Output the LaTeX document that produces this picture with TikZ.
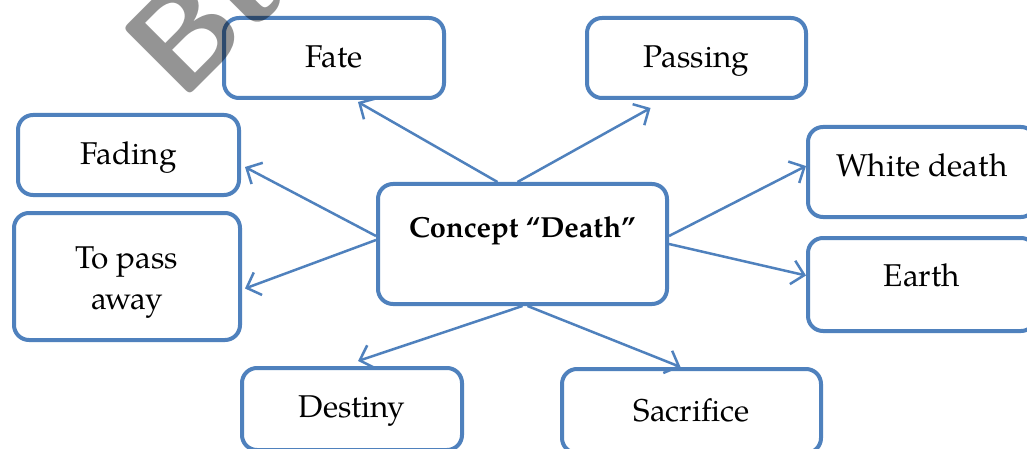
\documentclass[tikz,border=0pt]{standalone}
\usepackage{fontspec}
\setmainfont{TeX Gyre Pagella}
\usetikzlibrary{arrows.meta,calc}
\definecolor{boxblue}{HTML}{4F81BD}
\tikzset{
  box/.style={draw=boxblue, line width=4pt, rounded corners=15pt, fill=white,
    align=center, inner sep=0pt, text height=26pt, text depth=6pt,
    font=\fontsize{31.5}{41}\selectfont},
  link/.style={draw=boxblue, line width=2.5pt, -{Straight Barb[length=12pt,width=24pt,line width=2.5pt]}},
}
\begin{document}
\begin{tikzpicture}[x=1pt,y=-1pt]
\clip (0,0) rectangle (1027,449);
\useasboundingbox (0,0) rectangle (1027,449);
\fill[white] (0,0) rectangle (1027,449);

\node[box, minimum width=220pt, minimum height=80pt] (fate) at (334,58) {Fate};
\node[box, minimum width=219pt, minimum height=80pt] (pass) at (696.5,58) {Passing};
\node[box, minimum width=221pt, minimum height=80pt] (fading) at (128.5,155) {Fading};
\node[box, minimum width=226pt, minimum height=127pt, text height=, text depth=] (topass) at (127,276.5)
  {\raisebox{-11pt}[0pt][0pt]{\begin{tabular}{@{}c@{}}To pass\\away\end{tabular}}};
\node[box, minimum width=289pt, minimum height=120pt] (c) at (522.5,244)
  {\raisebox{17pt}[0pt][0pt]{\fontsize{29}{34}\selectfont\bfseries Concept “Death”}};
\node[box, minimum width=228pt, minimum height=90pt] (white) at (922,172) {\raisebox{5pt}[0pt][0pt]{White death}};
\node[box, minimum width=228pt, minimum height=93pt] (earth) at (922,284.5) {\raisebox{8pt}[0pt][0pt]{Earth}};
\node[box, minimum width=220pt, minimum height=82pt] (destiny) at (352,409) {\raisebox{2pt}[0pt][0pt]{Destiny}};
\node[box, minimum width=259pt, minimum height=84pt] (sacr) at (691.5,411) {Sacrifice};

\draw[link] ($(c.north)+(-25,0)$) -- ($(fate.south)+(24,2)$);
\draw[link] ($(c.north)+(-5,0)$) -- ($(pass.south)+(-46,8)$);
\draw[link] ($(c.west)+(0,-8)$) -- ($(fading.east)+(4,12)$);
\draw[link] ($(c.west)+(0,-4)$) -- ($(topass.east)+(3,12)$);
\draw[link] ($(c.east)+(0,-8)$) -- ($(white.west)+(0,-6)$);
\draw[link] ($(c.east)+(0,0)$) -- ($(earth.west)+(0,-9)$);
\draw[link] ($(c.south)+(0,0)$) -- ($(destiny.north)+(6,-5)$);
\draw[link] ($(c.south)+(5,0)$) -- ($(sacr.north)+(-11,0)$);

\node[font=\fontsize{135}{135}\selectfont\sffamily\bfseries, text=black, text opacity=0.42,
  rotate=45, anchor=base west, inner sep=0pt] (wm) at (181,104) {Bu};
\end{tikzpicture}
\end{document}
